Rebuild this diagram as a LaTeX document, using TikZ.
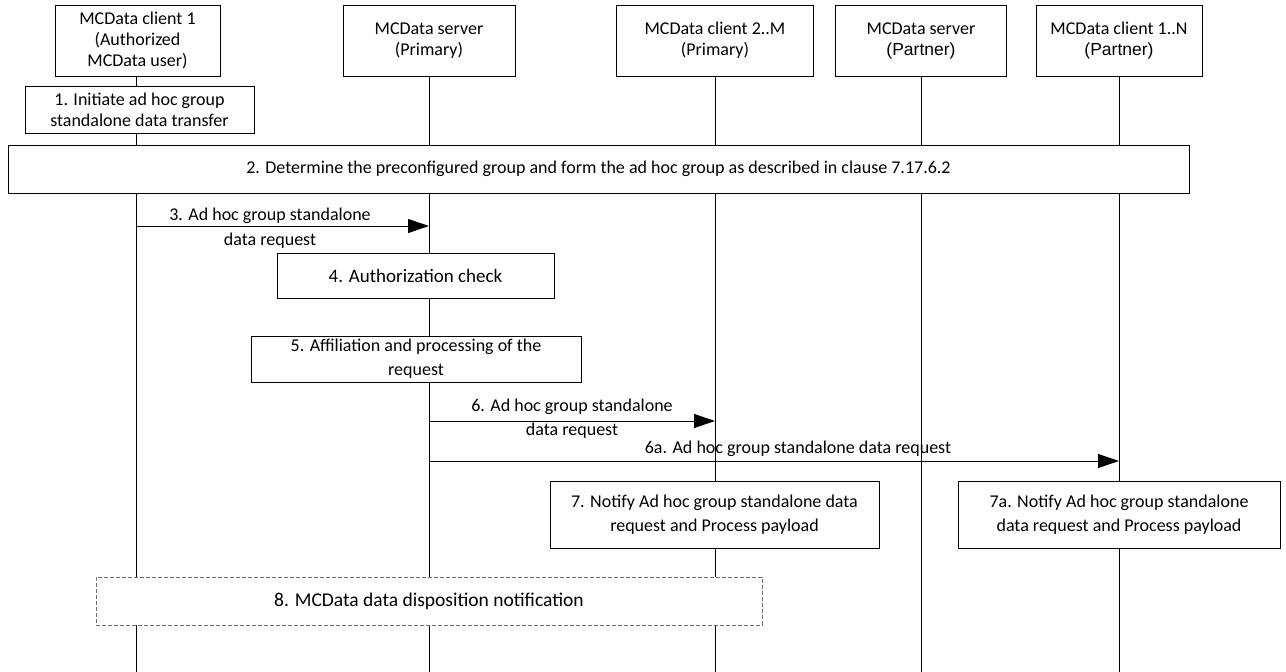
\documentclass[tikz,border=0pt]{standalone}
\usepackage{fontspec}
\setmainfont{Carlito}
\newfontfamily\partnerfont{Liberation Sans}
\usetikzlibrary{arrows.meta}
\usetikzlibrary{positioning}
\definecolor{dash-grey}{RGB}{110, 110, 110}

\tikzset{
  actor/.style={draw=black, fill=white, line width=1pt, align=center, inner sep=0pt},
  stepbox/.style={draw=black, fill=white, line width=1pt, align=center, inner sep=0pt,
    font=\fontsize{18}{24}\selectfont},
  notebox/.style={draw=dash-grey, fill=white, line width=0.9pt, dash pattern=on 4pt off 2pt, align=center, inner sep=0pt,
    font=\fontsize{19.5}{24}\selectfont},
  lifeline/.style={line width=1pt},
  msg/.style={line width=1pt, -{Triangle[length=21pt, width=14pt]}},
  msglabel/.style={align=center, inner sep=0pt, font=\fontsize{18}{24.5}\selectfont}
}

\begin{document}
\begin{tikzpicture}[x=1pt, y=-1pt, font=\fontsize{18}{21}\selectfont]
\useasboundingbox (0,0) rectangle (1286,672);

% lifelines
\coordinate (topA) at (136,76);  \coordinate (botA) at (136,672);
\coordinate (topB) at (429,76);  \coordinate (botB) at (429,672);
\coordinate (topC) at (715,76);  \coordinate (botC) at (715,672);
\coordinate (topD) at (921,76);  \coordinate (botD) at (921,672);
\coordinate (topE) at (1119,76); \coordinate (botE) at (1119,672);
\foreach \l in {A,B,C,D,E}
  \draw[lifeline] (top\l) -- (bot\l);

% entities
\node[actor, minimum width=165pt, minimum height=71pt] (clientA) at (137.5,40.5) {MCData client 1\\(Authorized\\MCData user)};
\node[actor, minimum width=172pt, minimum height=71pt] (serverP) at (429,40.5) {MCData server\\(Primary)};
\node[actor, minimum width=197pt, minimum height=71pt] (clientM) at (715,40.5) {MCData client 2..M\\(Primary)};
\node[actor, minimum width=171pt, minimum height=71pt] (serverX) at (921,40.5) {MCData server\\{\partnerfont\fontsize{17.5}{21}\selectfont(Partner)}};
\node[actor, minimum width=166pt, minimum height=71pt] (clientN) at (1119,40.5) {MCData client 1..N\\{\partnerfont\fontsize{17.5}{21}\selectfont(Partner)}};

% steps
\node[stepbox, minimum width=229pt, minimum height=47pt, font=\fontsize{18}{21}\selectfont] (s1) at (139.5,109.5) {1. Initiate ad hoc group\\standalone data transfer};
\node[stepbox, minimum width=1181pt, minimum height=48pt] (s2) at (598.5,169) {2. Determine the preconfigured group and form the ad hoc group as described in clause 7.17.6.2};

\coordinate (m3a) at (136,226); \coordinate (m3b) at (429,226);
\draw[msg] (m3a) -- (m3b);
\node[msglabel] (l3) at (270,228) {3. Ad hoc group standalone\\data request};

\node[stepbox, minimum width=277pt, minimum height=45pt, font=\fontsize{19}{24}\selectfont] (s4) at (415.5,275.5) {4. Authorization check};
\node[stepbox, minimum width=330pt, minimum height=46pt] (s5) at (416,359) {5. Affiliation and processing of the\\request};

\coordinate (m6a) at (429,421); \coordinate (m6b) at (715,421);
\draw[msg] (m6a) -- (m6b);
\node[msglabel] (l6) at (572,418.5) {6. Ad hoc group standalone\\data request};

\coordinate (m6c) at (429,461); \coordinate (m6d) at (1119,461);
\draw[msg] (m6c) -- (m6d);
\node[msglabel] (l6a) at (798,448.5) {6a. Ad hoc group standalone data request};

\node[stepbox, minimum width=329pt, minimum height=67pt] (s7) at (714.5,514.5) {7. Notify Ad hoc group standalone data\\request and Process payload};
\node[stepbox, minimum width=322pt, minimum height=67pt] (s7a) at (1119,514.5) {7a. Notify Ad hoc group standalone\\data request and Process payload};

\node[notebox, minimum width=666pt, minimum height=48pt] (s8) at (429,601) {8. MCData data disposition notification};
\end{tikzpicture}
\end{document}
